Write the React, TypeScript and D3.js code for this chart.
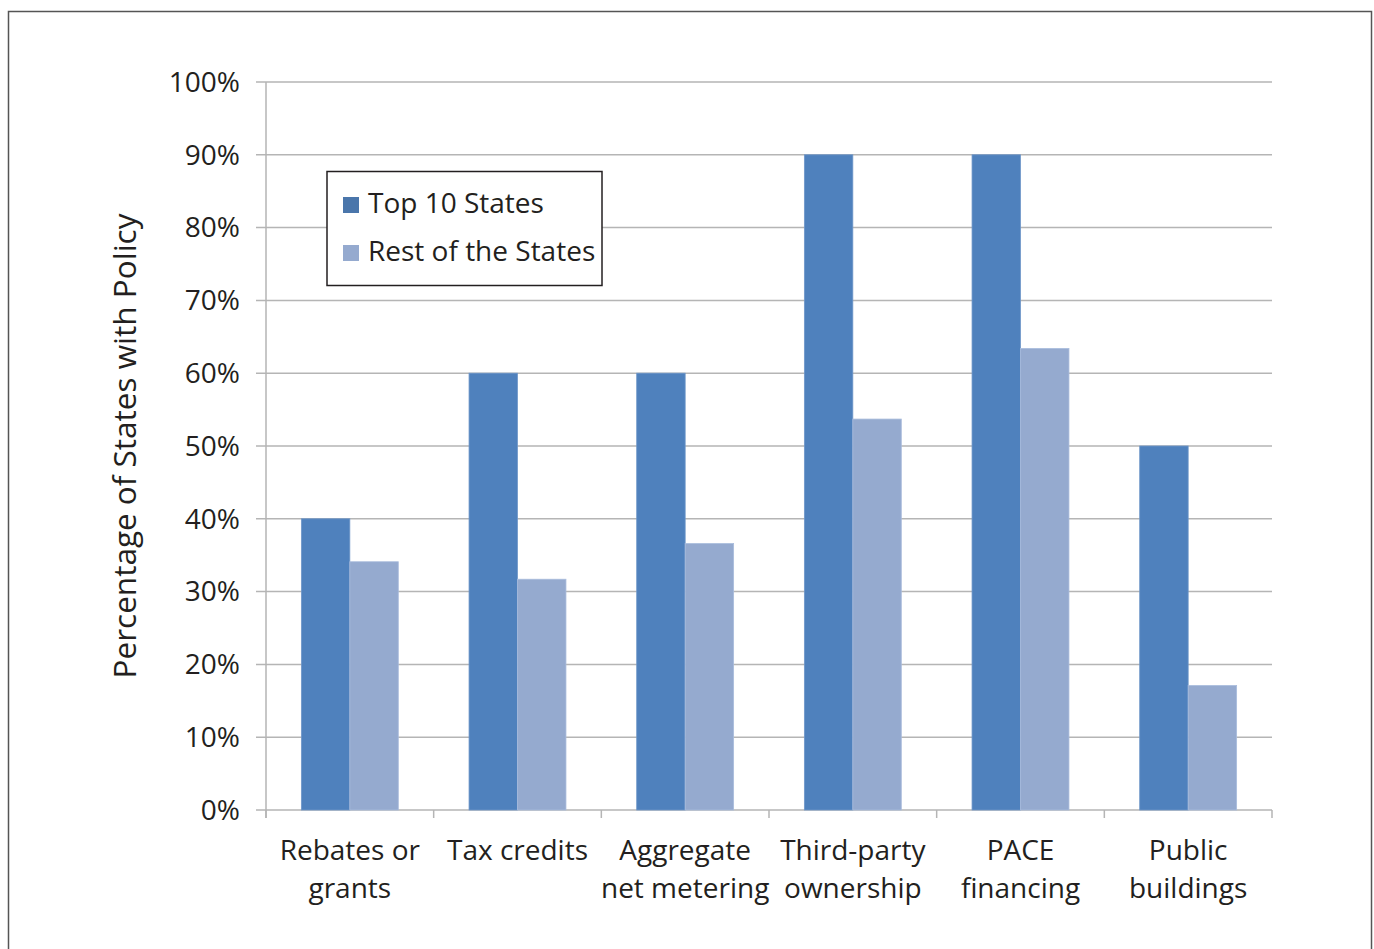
import React, { useEffect, useRef } from 'react';
import * as d3 from 'd3';

const categories = [
  ['Rebates or', 'grants'],
  ['Tax credits'],
  ['Aggregate', 'net metering'],
  ['Third-party', 'ownership'],
  ['PACE', 'financing'],
  ['Public', 'buildings'],
];
const seriesNames = ['Top 10 States', 'Rest of the States'];
const top10 = [0.4, 0.6, 0.6, 0.9, 0.9, 0.5];
const restOfStates = [0.341, 0.317, 0.366, 0.537, 0.634, 0.171];
const yTicks = [0, 0.1, 0.2, 0.3, 0.4, 0.5, 0.6, 0.7, 0.8, 0.9, 1];
const colors = ['#4F81BD', '#95AACF'];

const WIDTH = 1374;
const HEIGHT = 949;
const FONT = '"Open Sans", "Noto Sans", sans-serif';

const App: React.FC = () => {
  const svgRef = useRef<SVGSVGElement>(null);

  useEffect(() => {
    if (!svgRef.current) return;
    const svg = d3.select(svgRef.current);
    svg.selectAll('*').remove();
    svg.attr('font-family', FONT);

    const left = 266, right = 1272, top = 82, bottom = 810;
    const keys = categories.map(c => c.join(' '));

    const x = d3.scaleBand<string>().domain(keys).range([left, right]).padding(0);
    const x1 = d3.scaleBand<string>()
      .domain(seriesNames)
      .range([0, x.bandwidth()])
      .paddingInner(0)
      .paddingOuter(0.73);
    const y = d3.scaleLinear().domain([0, 1]).range([bottom, top]);

    // outer frame
    svg.append('rect')
      .attr('x', 8.5).attr('y', 11.5)
      .attr('width', 1363).attr('height', 960)
      .attr('fill', '#fff')
      .attr('stroke', '#555')
      .attr('stroke-width', 1.5);

    // gridlines + y ticks
    const grid = svg.append('g');
    grid.selectAll('line.grid')
      .data(yTicks)
      .join('line')
      .attr('x1', left - 10).attr('x2', right)
      .attr('y1', d => y(d)).attr('y2', d => y(d))
      .attr('stroke', '#b5b5b5')
      .attr('stroke-width', 1.5);

    grid.selectAll('text')
      .data(yTicks)
      .join('text')
      .attr('x', 240)
      .attr('y', d => y(d))
      .attr('dy', '0.35em')
      .attr('text-anchor', 'end')
      .attr('font-size', 28)
      .attr('fill', '#231f20')
      .text(d => `${Math.round(d * 100)}%`);

    // y axis line
    svg.append('line')
      .attr('x1', left).attr('x2', left)
      .attr('y1', top).attr('y2', bottom + 8)
      .attr('stroke', '#b5b5b5')
      .attr('stroke-width', 1.5);

    // x ticks at band edges
    const edges = keys.map(k => x(k) as number).concat([right]);
    svg.append('g')
      .selectAll('line')
      .data(edges)
      .join('line')
      .attr('x1', d => d).attr('x2', d => d)
      .attr('y1', bottom).attr('y2', bottom + 8)
      .attr('stroke', '#b5b5b5')
      .attr('stroke-width', 1.5);

    // bars
    const values = [top10, restOfStates];
    const groups = svg.append('g')
      .selectAll('g')
      .data(keys)
      .join('g')
      .attr('transform', d => `translate(${x(d)},0)`);

    groups.selectAll('rect')
      .data((_, i) => seriesNames.map((s, j) => ({ s, j, v: values[j][i] })))
      .join('rect')
      .attr('x', d => x1(d.s) as number)
      .attr('width', x1.bandwidth())
      .attr('y', d => y(d.v))
      .attr('height', d => bottom - y(d.v))
      .attr('fill', d => colors[d.j])
      .attr('stroke', d => d.j === 0 ? '#6f97c9' : '#a9bcdc')
      .attr('stroke-width', 0.8);

    // x labels
    const labels = svg.append('g')
      .selectAll('text')
      .data(categories)
      .join('text')
      .attr('x', (_, i) => (x(keys[i]) as number) + x.bandwidth() / 2)
      .attr('y', 860)
      .attr('text-anchor', 'middle')
      .attr('font-size', 28)
      .attr('fill', '#231f20');
    labels.selectAll('tspan')
      .data(d => d)
      .join('tspan')
      .attr('x', function () { return (this.parentNode as SVGTextElement).getAttribute('x'); })
      .attr('dy', (_, i) => (i === 0 ? 0 : 38))
      .text(d => d);

    // y axis title
    svg.append('text')
      .attr('transform', 'translate(136,446) rotate(-90)')
      .attr('text-anchor', 'middle')
      .attr('font-size', 31.5)
      .attr('fill', '#231f20')
      .text('Percentage of States with Policy');

    // legend
    const legend = svg.append('g');
    legend.append('rect')
      .attr('x', 327).attr('y', 171.5)
      .attr('width', 275).attr('height', 114)
      .attr('fill', '#fff')
      .attr('stroke', '#231f20')
      .attr('stroke-width', 1.5);
    const items = legend.selectAll('g')
      .data(seriesNames)
      .join('g')
      .attr('transform', (_, i) => `translate(343,${197 + i * 48})`);
    items.append('rect')
      .attr('width', 16).attr('height', 16)
      .attr('fill', (_, i) => (i === 0 ? '#4A76AB' : colors[1]));
    items.append('text')
      .attr('x', 25)
      .attr('y', 16)
      .attr('font-size', 28)
      .attr('fill', '#231f20')
      .text(d => d);
  }, []);

  return (
    <svg
      ref={svgRef}
      width={WIDTH}
      height={HEIGHT}
      style={{ position: 'absolute', left: 0, top: 0, background: '#fff' }}
    />
  );
};

export default App;
